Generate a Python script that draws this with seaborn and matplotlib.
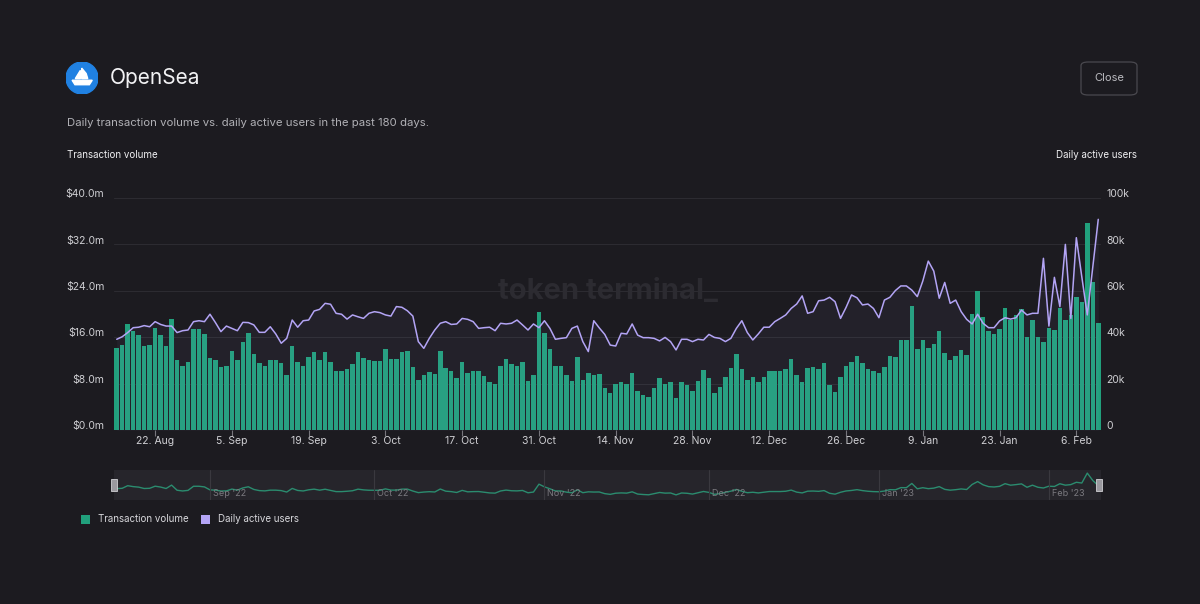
import matplotlib
matplotlib.use("Agg")
import matplotlib.pyplot as plt
import matplotlib.patches as mpatches
import matplotlib.transforms as mtransforms
import numpy as np
import pandas as pd
import seaborn as sns

# daily values, 15 Aug 2022 .. 10 Feb 2023 (180 days)
start_date = "2022-08-15"
volume_m = [
    14.2, 14.7, 18.3, 17.0, 16.3, 14.4, 14.7, 17.6, 16.4, 14.4,
    19.1, 12.0, 11.0, 11.8, 17.5, 17.5, 16.6, 12.5, 12.1, 10.9,
    11.1, 13.6, 12.1, 15.2, 16.8, 13.1, 11.5, 11.1, 12.1, 12.1,
    11.5, 9.5, 14.5, 11.7, 11.0, 12.6, 13.5, 12.1, 13.4, 11.8,
    10.1, 10.1, 10.6, 11.3, 13.5, 12.5, 12.0, 11.9, 11.9, 13.9,
    12.2, 12.2, 13.5, 13.6, 10.9, 8.7, 9.5, 10.0, 9.6, 13.7,
    10.7, 10.1, 8.9, 11.8, 9.8, 10.1, 10.2, 9.3, 8.3, 8.0,
    11.0, 12.2, 11.3, 11.1, 11.7, 8.5, 9.5, 20.4, 16.7, 14.0,
    11.0, 11.0, 9.4, 8.5, 12.6, 8.6, 9.8, 9.5, 9.6, 7.3,
    6.3, 7.9, 8.3, 8.0, 9.8, 6.7, 6.1, 5.7, 7.3, 8.9,
    8.0, 8.2, 5.6, 8.2, 7.8, 6.7, 8.5, 10.3, 9.0, 6.3,
    7.4, 9.2, 10.7, 13.1, 10.6, 8.6, 9.2, 8.3, 9.2, 10.2,
    10.2, 10.2, 10.6, 12.2, 9.4, 8.3, 10.7, 10.9, 10.5, 11.5,
    7.8, 6.6, 9.2, 11.0, 11.7, 12.8, 11.5, 10.6, 10.1, 9.9,
    10.9, 12.8, 12.6, 15.6, 15.5, 21.4, 14.0, 15.5, 14.2, 14.9,
    17.0, 13.2, 12.1, 12.8, 13.8, 13.0, 20.0, 24.0, 19.5, 17.0,
    16.5, 17.4, 21.1, 19.0, 19.8, 20.8, 16.1, 19.0, 16.1, 15.1,
    17.6, 17.2, 21.0, 19.0, 19.8, 23.0, 22.0, 35.7, 25.5, 18.4,
]
users_k = [
    39.1, 40.2, 42.0, 44.1, 44.3, 45.0, 44.5, 46.7, 45.5, 44.8,
    44.8, 42.0, 42.8, 43.1, 46.7, 47.1, 46.7, 49.9, 46.3, 42.4,
    44.8, 43.8, 42.8, 46.4, 46.3, 45.3, 42.1, 42.1, 44.5, 41.4,
    37.4, 39.5, 47.4, 44.3, 47.1, 47.4, 51.3, 52.0, 54.6, 54.2,
    50.3, 49.9, 47.8, 49.6, 48.8, 48.1, 50.3, 51.0, 50.6, 49.6,
    49.1, 53.2, 52.9, 51.4, 49.1, 38.1, 35.2, 39.5, 43.1, 46.0,
    46.7, 45.5, 45.7, 48.1, 47.7, 46.7, 43.8, 44.1, 44.3, 42.8,
    46.0, 45.7, 46.0, 47.4, 45.3, 43.1, 45.7, 44.1, 47.1, 43.8,
    39.1, 39.5, 39.8, 43.8, 44.8, 38.1, 33.8, 47.1, 44.0, 41.2,
    36.6, 36.2, 41.7, 41.4, 45.7, 40.9, 39.8, 39.8, 39.5, 38.4,
    39.9, 38.1, 34.5, 39.1, 39.1, 38.1, 39.1, 38.8, 41.2, 39.9,
    39.5, 38.1, 39.5, 43.8, 47.1, 42.0, 38.8, 41.4, 44.3, 44.3,
    46.7, 48.1, 49.6, 52.4, 54.3, 57.8, 50.3, 51.0, 55.7, 56.0,
    57.2, 55.3, 48.1, 52.8, 58.2, 57.0, 53.9, 54.3, 52.4, 48.4,
    56.0, 57.2, 60.1, 62.1, 62.1, 60.3, 57.5, 64.2, 72.8, 68.5,
    56.8, 63.6, 54.6, 56.0, 51.0, 47.7, 45.7, 49.9, 46.0, 44.1,
    44.1, 47.0, 48.4, 47.8, 48.4, 51.7, 49.6, 50.3, 50.3, 74.0,
    44.8, 65.8, 53.2, 80.0, 48.1, 82.9, 66.0, 49.6, 70.0, 90.8,
]
vol_ticks = [0, 8, 16, 24, 32, 40]
user_ticks = [0, 20, 40, 60, 80, 100]
month_labels = ["Sep '22", "Oct '22", "Nov '22", "Dec '22", "Jan '23", "Feb '23"]

BG = "#1c1b20"
GREEN = "#21a07c"
PURPLE = "#b3a4f5"
W, H = 1200, 604

dates = pd.date_range(start_date, periods=len(volume_m), freq="D")
df = pd.DataFrame({"day": np.arange(len(dates)), "volume": volume_m, "users": users_k})

sns.set_theme(style="dark")
plt.rcParams["font.family"] = ["Inter", "DejaVu Sans"]

fig = plt.figure(figsize=(W / 100, H / 100), dpi=100, facecolor=BG)


def fx(px):
    return px / W


def fy(py):
    return 1 - py / H


# main chart: bars on ax, users line on twin ax2 drawn above
ax = fig.add_axes([fx(114), fy(430), fx(987), (430 - 198) / H])
ax2 = ax.twinx()
ax.set_zorder(1)
ax2.set_zorder(2)
ax.set_facecolor(BG)
ax2.patch.set_visible(False)

sns.barplot(data=df, x="day", y="volume", color=GREEN, saturation=1,
            width=0.82, linewidth=0, ax=ax)
sns.lineplot(data=df, x="day", y="users", color=PURPLE, lw=1.1, ax=ax2)
ax2.fill_between(df["day"], df["users"], color=PURPLE, alpha=0.05, lw=0)

n = len(df)
ax.set_xlim(-0.5, n - 0.5)
ax.set_ylim(0, 40)
ax2.set_ylim(0, 100)
ax.set_yticks(vol_ticks)
ax.set_yticklabels([f"${v:.1f}m" for v in vol_ticks])
ax2.set_yticks(user_ticks)
ax2.set_yticklabels(["0" if v == 0 else f"{v}k" for v in user_ticks])
for a in (ax, ax2):
    a.set_xlabel("")
    a.set_ylabel("")

tick_pos = [i for i, d in enumerate(dates) if (d - pd.Timestamp("2022-08-22")).days % 14 == 0]
ax.set_xticks(tick_pos)
ax.set_xticklabels([f"{dates[i].day}. {dates[i].strftime('%b')}" for i in tick_pos])

ax.grid(axis="y", color="#2c2b31", lw=0.8)
ax.grid(axis="x", visible=False)
ax2.grid(False)
for a in (ax, ax2):
    for s in a.spines.values():
        s.set_visible(False)

ax.tick_params(axis="x", colors="#cfcfd3", labelsize=7.5, length=4, width=0.8,
               direction="out", pad=0.5, bottom=True)
ax.xaxis.set_tick_params(color="#77767c")
ax.tick_params(axis="y", colors="#cfcfd3", labelsize=7.5, length=0, pad=7)
ax2.tick_params(axis="y", colors="#cfcfd3", labelsize=7.5, length=0, pad=4)

off = mtransforms.ScaledTranslation(0, 3.5 / 72, fig.dpi_scale_trans)
for lab in ax.get_yticklabels() + ax2.get_yticklabels():
    lab.set_transform(lab.get_transform() + off)

ax.text(0.5, 0.595, "token terminal_", transform=ax.transAxes, ha="center", va="center",
        fontsize=21, fontweight="bold", color="#2c2b31", zorder=0)

# header with logo
logo = fig.add_axes([fx(66), fy(94), fx(32), 32 / H])
logo.set_xlim(-1, 1)
logo.set_ylim(-1, 1)
logo.set_aspect("equal")
logo.axis("off")
logo.add_patch(mpatches.Circle((0, 0), 1, color="#2081e2"))
logo.add_patch(mpatches.Polygon([(-0.42, -0.04), (-0.1, 0.48), (-0.1, -0.04)], color="white"))
logo.add_patch(mpatches.Polygon([(-0.02, 0.62), (-0.02, -0.04), (0.36, -0.04), (0.26, 0.28)], color="white"))
logo.add_patch(mpatches.Polygon([(-0.62, -0.14), (0.64, -0.14), (0.46, -0.42), (-0.44, -0.42)], color="white"))

fig.text(fx(110), fy(78), "OpenSea", fontsize=15, color="#f2f2f4", va="center", ha="left")
fig.text(fx(67), fy(123), "Daily transaction volume vs. daily active users in the past 180 days.",
         fontsize=8.2, color="#b0b0b5", va="center", ha="left")
fig.text(fx(67), fy(155), "Transaction volume", fontsize=7, color="#f0f0f2", va="center", ha="left")
fig.text(fx(1137), fy(155), "Daily active users", fontsize=7, color="#f0f0f2", va="center", ha="right")

btn = mpatches.FancyBboxPatch((fx(1081), fy(95)), fx(56), 33 / H,
                              boxstyle="round,pad=0,rounding_size=0.006",
                              transform=fig.transFigure, facecolor="none",
                              edgecolor="#4a494f", lw=0.9)
fig.patches.append(btn)
fig.text(fx(1109), fy(78), "Close", fontsize=8, color="#b9b9be", ha="center", va="center")

# navigator
nav = fig.add_axes([fx(114), fy(500), fx(987), 30 / H])
nav.set_facecolor("#26252b")
sns.lineplot(data=df, x="day", y="volume", color="#2b8c6f", lw=1, ax=nav)
nav.set_xlim(-0.5, n - 0.5)
nav.set_ylim(-1.5, 40)
nav.set_xticks([])
nav.set_yticks([])
nav.set_xlabel("")
nav.set_ylabel("")
nav.grid(False)
for s in nav.spines.values():
    s.set_visible(False)
month_pos = [i for i, d in enumerate(dates) if d.day == 1]
for i, lab in zip(month_pos, month_labels):
    nav.axvline(i, color="#3a393f", lw=0.8)
    nav.text(i + 0.5, 0.22, lab, transform=nav.get_xaxis_transform(),
             fontsize=6.5, color="#7a797f", va="center", ha="left")
for hx in (114, 1099):
    fig.patches.append(mpatches.Rectangle((fx(hx - 3), fy(491)), fx(6), 12 / H,
                                          transform=fig.transFigure, facecolor="#9a999f",
                                          edgecolor="#d0d0d4", lw=0.6, zorder=5))

# legend
for lx, col, txt in [(85, GREEN, "Transaction volume"), (205, PURPLE, "Daily active users")]:
    fig.patches.append(mpatches.Rectangle((fx(lx - 4.5), fy(523.5)), fx(9), 9 / H,
                                          transform=fig.transFigure, facecolor=col, lw=0))
    fig.text(fx(lx + 13), fy(519), txt, fontsize=7, color="#d8d8dc", va="center", ha="left")

fig.savefig("out.png", dpi=100, facecolor=BG)
